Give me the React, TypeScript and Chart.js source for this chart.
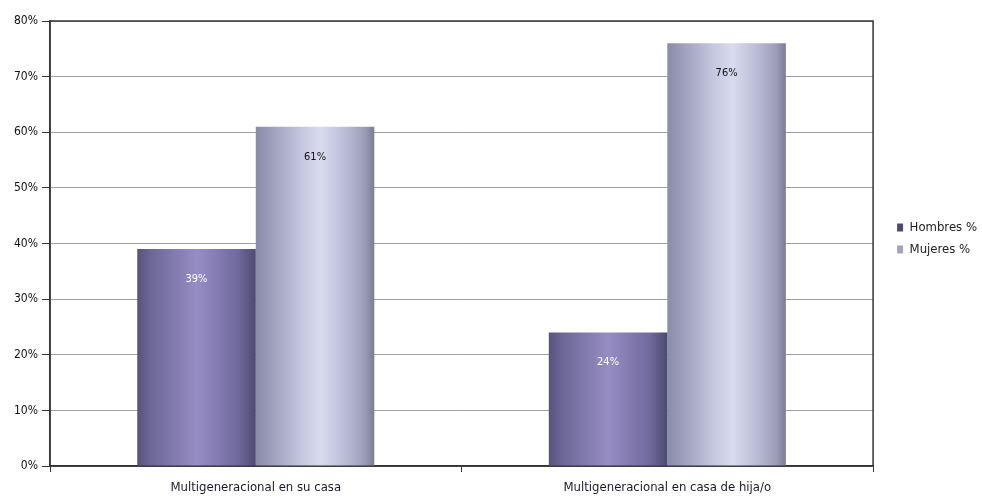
import React, { useEffect, useRef } from "react";
import { Chart, registerables } from "chart.js";

Chart.register(...registerables);

const categories = ["Multigeneracional en su casa", "Multigeneracional en casa de hija/o"];
const seriesNames = ["Hombres %", "Mujeres %"];
const hombres = [39, 24];
const mujeres = [61, 76];
const yMax = 80;
const yStep = 10;

const FONT = '"DejaVu Sans Condensed", "Liberation Sans Narrow", "DejaVu Sans", sans-serif';

const legendColors = ["#4e4a70", "#a4a4bc"];
const labelColors = ["#ffffff", "#111111"];
const gradients: [number, string][][] = [
  [
    [0, "#57527e"],
    [0.12, "#6d6898"],
    [0.5, "#968dc4"],
    [0.85, "#716a9e"],
    [1, "#4d4970"],
  ],
  [
    [0, "#8a8aaa"],
    [0.4, "#c6c9e0"],
    [0.55, "#d9dcef"],
    [0.78, "#b6b8d2"],
    [0.92, "#9c9cb6"],
    [1, "#7c7c94"],
  ],
];

const gradientPlugin = {
  id: "barGradient",
  beforeDatasetsDraw(chart: any) {
    const ctx = chart.ctx;
    const area = chart.chartArea;
    ctx.save();
    ctx.strokeStyle = "#333";
    ctx.lineWidth = 1.5;
    ctx.strokeRect(area.left, area.top, area.right - area.left, area.bottom - area.top);
    ctx.restore();
    chart.data.datasets.forEach((_ds: any, di: number) => {
      const meta = chart.getDatasetMeta(di);
      meta.data.forEach((el: any) => {
        const { x, width } = el.getProps(["x", "width"], true);
        const g = ctx.createLinearGradient(x - width / 2, 0, x + width / 2, 0);
        gradients[di].forEach(([o, c]) => g.addColorStop(o, c));
        el.options = { ...el.options, backgroundColor: g };
      });
    });
  },
  afterDatasetsDraw(chart: any) {
    const ctx = chart.ctx;
    ctx.save();
    ctx.font = `11px ${FONT}`;
    ctx.textAlign = "center";
    ctx.textBaseline = "middle";
    chart.data.datasets.forEach((ds: any, di: number) => {
      const meta = chart.getDatasetMeta(di);
      meta.data.forEach((el: any, i: number) => {
        ctx.fillStyle = labelColors[di];
        ctx.fillText(ds.data[i] + "%", el.x, el.y + 30);
      });
    });
    ctx.restore();
  },
};

const legendShift = {
  id: "legendShift",
  afterLayout(chart: any) {
    const lg = chart.legend;
    if (lg) {
      lg.left += 15;
      lg.right += 15;
      lg.top -= 5;
      lg.bottom -= 5;
    }
  },
};

export default function App() {
  const ref = useRef<HTMLCanvasElement>(null);
  useEffect(() => {
    document.body.style.margin = "0";
    const chart = new Chart(ref.current!, {
      type: "bar",
      data: {
        labels: categories,
        datasets: [
          { label: seriesNames[0], data: hombres, backgroundColor: legendColors[0], borderWidth: 0 },
          { label: seriesNames[1], data: mujeres, backgroundColor: legendColors[1], borderWidth: 0 },
        ],
      },
      options: {
        responsive: false,
        animation: false,
        layout: { padding: { top: 21, left: 0, right: 10, bottom: 0 } },
        datasets: { bar: { categoryPercentage: 0.576, barPercentage: 1 } },
        scales: {
          x: {
            grid: { drawOnChartArea: false, offset: true, tickLength: 6, tickColor: "#333" },
            border: { color: "#333", width: 1.5 },
            ticks: { font: { family: FONT, size: 13 }, color: "#1a1a2a", padding: 8 },
            afterFit: (s: any) => {
              s.height = 32;
            },
          },
          y: {
            min: 0,
            max: yMax,
            ticks: {
              stepSize: yStep,
              callback: (v: any) => v + "%",
              font: { family: FONT, size: 12 },
              color: "#111",
              padding: 4,
            },
            grid: { color: "#a0a0a0", tickColor: "#333", tickLength: 8 },
            border: { color: "#333", width: 1.5 },
            afterFit: (s: any) => {
              s.width = 50;
            },
          },
        },
        plugins: {
          legend: {
            position: "right",
            fullSize: false,
            maxWidth: 109,
            labels: {
              boxWidth: 6,
              boxHeight: 8,
              padding: 9,
              color: "#222",
              font: { family: FONT, size: 13 },
            },
          },
          tooltip: { enabled: false },
        },
      },
      plugins: [gradientPlugin, legendShift],
    });
    return () => chart.destroy();
  }, []);
  return (
    <div style={{ width: 982, height: 498 }}>
      <canvas ref={ref} width={982} height={498} />
    </div>
  );
}
